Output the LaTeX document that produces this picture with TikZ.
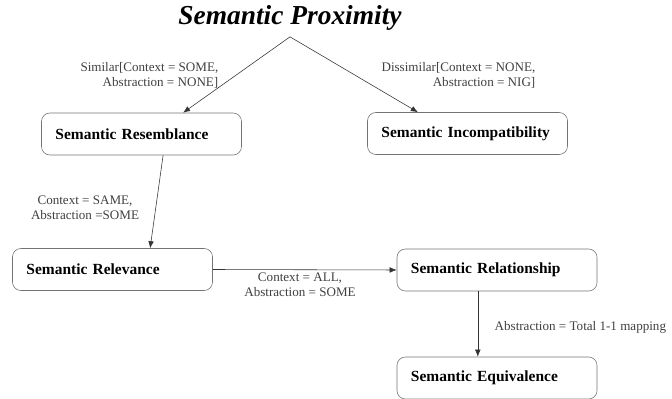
\documentclass[tikz,border=0pt]{standalone}
\usepackage{fontspec}
\setmainfont{Liberation Serif}
\usetikzlibrary{arrows.meta}

\tikzset{
  concept/.style={draw=black!55, rounded corners=6pt, text width=4.3cm, inner xsep=0.35cm,
    minimum height=1.05cm, align=left, font=\bfseries\fontsize{11}{13}\selectfont},
  cond/.style={font=\fontsize{9.3}{10.8}\selectfont, text=black!75, inner sep=1pt},
  link/.style={draw=black!80, -{Latex[length=5pt,width=4pt]}}
}

\begin{document}
\begin{tikzpicture}[x=0.025cm, y=-0.025cm]
  \useasboundingbox (0,0) rectangle (672,399);

  \node (prox) at (290,18) {\fontsize{19.5}{22}\selectfont\bfseries\itshape Semantic Proximity};

  \node[concept] (resem) at (141.5,134) {Semantic Resemblance};
  \node[concept] (incomp) at (467.5,133.5) {Semantic Incompatibility};
  \node[concept] (relev) at (112.5,269.5) {Semantic Relevance};
  \node[concept] (relat) at (497,270) {Semantic Relationship};
  \node[concept] (equiv) at (497,378) {Semantic Equivalence};

  \draw[link] ([yshift=-1pt]prox.south) -- ([xshift=1.04cm]resem.north);
  \draw[link] ([yshift=-1pt]prox.south) -- ([xshift=-1.24cm]incomp.north);
  \draw[link] ([xshift=0.54cm]resem.south) -- ([xshift=0.94cm]relev.north);
  \draw[link] (relev.east) -- (relat.west);
  \draw[link] ([xshift=-0.48cm]relat.south) -- ([xshift=-0.48cm]equiv.north);

  % conditions on the links
  \node[cond, align=right, anchor=east] (simlbl) at (220,75) {Similar[Context = SOME,\\Abstraction = NONE]};
  \node[cond, align=right, anchor=east] (dislbl) at (537,75) {Dissimilar[Context = NONE,\\Abstraction = NIG]};
  \node[cond, align=center] (samelbl) at (85,208) {Context = SAME,\\Abstraction =SOME};
  \node[cond, align=center] (alllbl) at (300,285) {Context = ALL,\\Abstraction = SOME};
  \node[cond, anchor=west] (totlbl) at (493,327) {Abstraction = Total 1-1 mapping};
\end{tikzpicture}
\end{document}
